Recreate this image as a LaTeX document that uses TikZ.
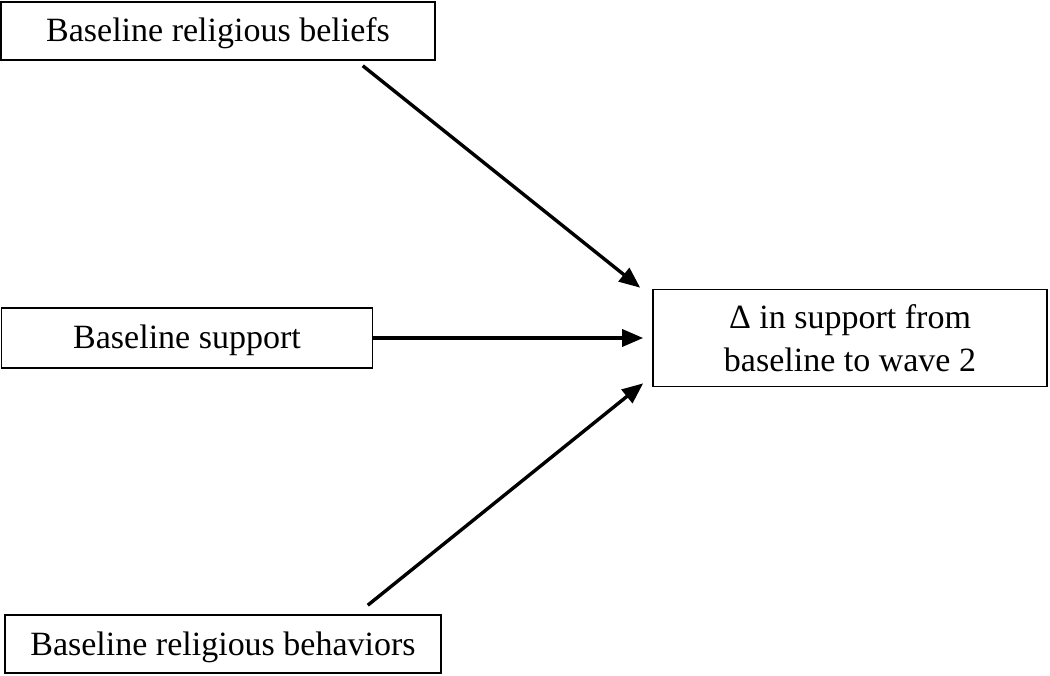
\documentclass[tikz,border=0pt]{standalone}
\usepackage{fontspec}
\setmainfont{Liberation Serif}
\usepackage{tikz}
\usetikzlibrary{arrows.meta,positioning}

\begin{document}
\begin{tikzpicture}[
  x=1pt, y=-1pt,
  box/.style={draw, line width=1.6pt, inner sep=0pt, align=center,
    font=\fontsize{34}{43}\selectfont},
  single/.style={box, text height=28pt, text depth=6pt},
  arr/.style={-{Triangle[length=21pt,width=17pt]}, line width=3.4pt},
]
  \useasboundingbox (0,0) rectangle (1050,676);

  \node[single, minimum width=434pt, minimum height=58pt] (beliefs) at (218,31)
    {Baseline religious beliefs};
  \node[single, minimum width=371pt, minimum height=60pt] (support) at (187,338)
    {Baseline support};
  \node[single, minimum width=436pt, minimum height=58pt] (behav) at (223,644)
    {Baseline religious behaviors};
  \node[box, minimum width=394pt, minimum height=97pt] (change) at (850,338)
    {Δ in support from\\baseline to wave 2};

  \draw[arr] ([xshift=-73pt,yshift=-5pt]beliefs.south east) -- ([xshift=-12pt,yshift=1pt]change.north west);
  \draw[arr] (support.east) -- ([xshift=-9pt]change.west);
  \draw[arr] ([xshift=-74pt,yshift=9pt]behav.north east) -- ([xshift=-9pt,yshift=4pt]change.south west);
\end{tikzpicture}
\end{document}
